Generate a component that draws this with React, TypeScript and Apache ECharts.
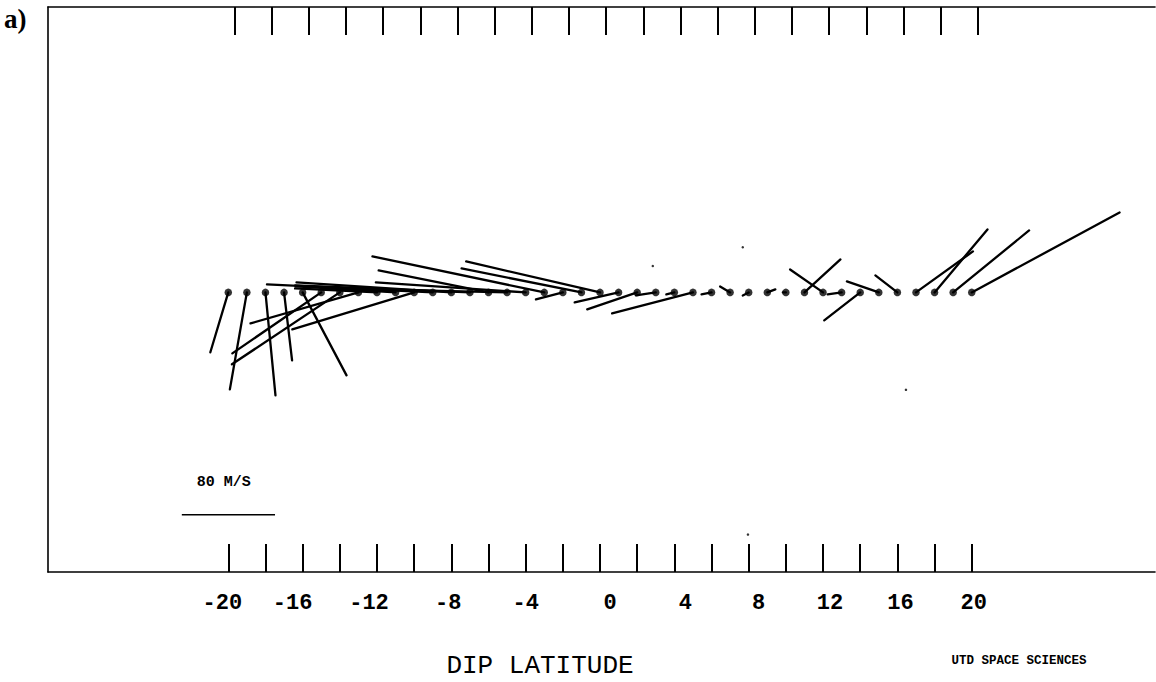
import { useEffect, useRef } from "react";
import * as echarts from "echarts";

// Dip latitude of each measurement (degrees)
const latitudes = [
  -20, -19, -18, -17, -16, -15, -14, -13, -12, -11, -10, -9, -8, -7, -6, -5, -4, -3, -2, -1,
  0, 1, 2, 3, 4, 5, 6, 7, 8, 9, 10, 11, 12, 13, 14, 15, 16, 17, 18, 19, 20,
];
// Horizontal (eastward, +right) velocity component, m/s
const eastward = [
  -15.4, -14.6, 8.6, 6.9, 37.7, -76.3, -92.6, -92.6, -70.3, -85.7, -104.6, -142.3, -132.9, -150.0,
  -94.3, -154.3, -128.6, -147.5, -23.1, -102.9, -114.9, -37.7, -42.9, -17.1, -6.9, -69.4, -8.6,
  -8.6, -5.1, 6.9, -2.6, 30.9, -28.3, -12.0, -30.9, -27.4, -18.9, 48.9, 45.4, 65.2, 126.9,
];
// Vertical (upward, +up) velocity component, m/s
const upward = [
  -51.4, -83.2, -88.3, -58.3, -71.2, -52.3, -61.7, -26.6, 3.4, 5.1, -31.7, 6.9, 8.6, 6.0, 18.9,
  3.4, 8.6, 30.9, -6.0, 20.6, 26.6, -8.6, -14.6, -2.6, -1.7, -18.0, -1.7, 5.1, -2.6, 2.6, 0, 28.3,
  19.7, -1.7, -24.0, 9.4, 14.6, 35.2, 54.0, 53.2, 68.6,
];
// Isolated specks in the plotting area [dip latitude, m/s]
const specksLat = [7.68, 2.84, 16.46, 7.96];
const specksVal = [38.8, 22.7, -83.6, -207.9];

const tickValues = [-20, -18, -16, -14, -12, -10, -8, -6, -4, -2, 0, 2, 4, 6, 8, 10, 12, 14, 16, 18, 20];
const labelValues = [-20, -16, -12, -8, -4, 0, 4, 8, 12, 16, 20];

const scaleSpeed = 80; // m/s
const scaleLabel = "80 M/S";
const xTitle = "DIP LATITUDE";
const credit = "UTD SPACE SCIENCES";
const panel = "a)";

// axis ranges
const X_MIN = -29.7;
const X_MAX = 29.86;
const TOP_SKEW = 0.33; // the top tick row of the original is shifted slightly right
const Y_MIN = -240;
const Y_MAX = 245;
// reference-bar anchor in data coordinates
const BAR_X = -22.5;
const BAR_Y = -190.8;

// horizontal nudge (px) of each printed tick label relative to its tick
const LABEL_NUDGE: Record<string, number> = {
  "-20": -6, "-16": -10, "-12": -8, "-8": -3, "-4": 0, "0": 10, "4": 11, "8": 10, "12": 7, "16": 3, "20": 2,
};

export default function App() {
  const ref = useRef<HTMLDivElement>(null);
  useEffect(() => {
    if (!ref.current) return;
    const chart = echarts.init(ref.current, null, { renderer: "svg" });
    const vectors = latitudes.map((lat, i) => [lat, eastward[i], upward[i]]);
    const dots = latitudes.map((lat) => [lat, 0]);
    const specks = specksLat.map((x, i) => [x, specksVal[i]]);
    const baseFont = {
      fontFamily: "Liberation Mono",
      fontWeight: "bold" as const,
      fontSize: 22,
      color: "#000",
    };
    const rich: Record<string, any> = {};
    Object.keys(LABEL_NUDGE).forEach((k, i) => {
      const n = LABEL_NUDGE[k];
      rich["n" + i] = {
        ...baseFont,
        padding: n >= 0 ? [0, 0, 0, 2 * n] : [0, -2 * n, 0, 0],
      };
    });
    const keys = Object.keys(LABEL_NUDGE);
    const tickStyle = { color: "#000", width: 2 };
    const lineStyle = { color: "#000", width: 1.6 };
    chart.setOption({
      animation: false,
      backgroundColor: "#fff",
      grid: { left: 48, right: 1, top: 7, bottom: 110, show: false },
      xAxis: [
        {
          type: "value",
          min: X_MIN,
          max: X_MAX,
          position: "bottom",
          axisLine: { show: true, onZero: false, lineStyle },
          axisTick: { show: true, inside: true, length: 28, customValues: tickValues, lineStyle: tickStyle },
          axisLabel: {
            show: true,
            customValues: labelValues,
            margin: 20,
            ...baseFont,
            rich,
            formatter: (v: number) => {
              const s = String(v);
              const i = keys.indexOf(s);
              return i >= 0 ? `{n${i}|${s}}` : s;
            },
          },
          splitLine: { show: false },
        },
        {
          type: "value",
          min: X_MIN - TOP_SKEW,
          max: X_MAX - TOP_SKEW,
          position: "top",
          axisLine: { show: true, onZero: false, lineStyle },
          axisTick: { show: true, inside: true, length: 28, customValues: tickValues, lineStyle: tickStyle },
          axisLabel: { show: false },
          splitLine: { show: false },
        },
      ],
      yAxis: [
        {
          type: "value",
          min: Y_MIN,
          max: Y_MAX,
          position: "left",
          axisLine: { show: true, onZero: false, lineStyle },
          axisTick: { show: false },
          axisLabel: { show: false },
          splitLine: { show: false },
        },
      ],
      series: [
        {
          type: "custom",
          name: "vectors",
          coordinateSystem: "cartesian2d",
          data: vectors,
          renderItem: (params: any, api: any) => {
            const lat = api.value(0);
            const u = api.value(1);
            const v = api.value(2);
            const o = api.coord([lat, 0]);
            const k = api.size([0, 1])[1];
            return {
              type: "line",
              shape: { x1: o[0], y1: o[1], x2: o[0] + u * k, y2: o[1] - v * k },
              style: { stroke: "#000", lineWidth: 2.3, lineCap: "round" },
            };
          },
          silent: true,
        },
        {
          type: "scatter",
          name: "stations",
          data: dots,
          symbol: "circle",
          symbolSize: 7.5,
          itemStyle: { color: "#000" },
          silent: true,
        },
        {
          type: "scatter",
          name: "specks",
          data: specks,
          symbol: "circle",
          symbolSize: 2.5,
          itemStyle: { color: "#000" },
          silent: true,
        },
        {
          type: "custom",
          name: "reference",
          coordinateSystem: "cartesian2d",
          data: [[BAR_X, BAR_Y, scaleSpeed]],
          renderItem: (params: any, api: any) => {
            const o = api.coord([api.value(0), api.value(1)]);
            const k = api.size([0, 1])[1];
            const len = api.value(2) * k;
            return {
              type: "group",
              children: [
                {
                  type: "line",
                  shape: { x1: o[0], y1: o[1], x2: o[0] + len, y2: o[1] },
                  style: { stroke: "#000", lineWidth: 1.6 },
                },
                {
                  type: "text",
                  x: o[0] + 15,
                  y: o[1] - 32,
                  style: {
                    text: scaleLabel,
                    fill: "#000",
                    font: "bold 15px 'Liberation Mono'",
                    textAlign: "left",
                    textVerticalAlign: "middle",
                  },
                },
              ],
            };
          },
          silent: true,
        },
      ],
      graphic: [
        {
          type: "text",
          left: 4,
          top: 5,
          style: { text: panel, fill: "#000", font: "bold 27px 'Liberation Serif'" },
        },
        {
          type: "text",
          x: 540,
          y: 666,
          style: {
            text: xTitle,
            fill: "#000",
            font: "26px 'Liberation Mono'",
            textAlign: "center",
            textVerticalAlign: "middle",
          },
        },
        {
          type: "text",
          x: 1019,
          y: 661,
          style: {
            text: credit,
            fill: "#000",
            font: "bold 12.5px 'Liberation Mono'",
            textAlign: "center",
            textVerticalAlign: "middle",
          },
        },
      ],
    });
    return () => chart.dispose();
  }, []);
  return (
    <div
      ref={ref}
      style={{ position: "fixed", left: 0, top: 0, width: 1156, height: 682, background: "#fff" }}
    />
  );
}
